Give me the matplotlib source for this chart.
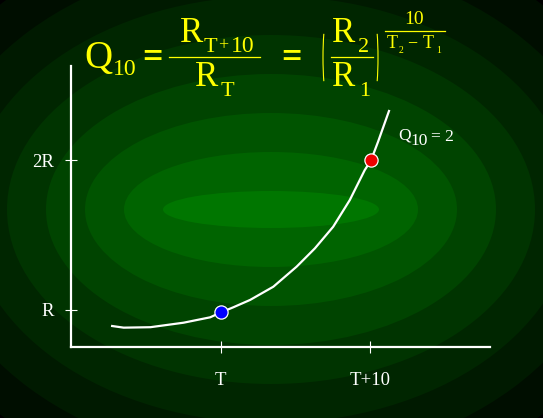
import numpy as np
import matplotlib
matplotlib.use('Agg')
from matplotlib import pyplot as plt
from matplotlib.patches import Ellipse, Arc

###### Data
curve_x = [-7.25, -6.48, -4.70, -2.48, -0.70, 0.05, 0.85, 1.97, 3.52, 5.08,
           6.30, 7.52, 8.63, 9.63, 10.05, 10.52, 11.25]
curve_y = [0.893, 0.882, 0.885, 0.915, 0.951, 0.985, 1.018, 1.067, 1.155, 1.289,
           1.411, 1.555, 1.733, 1.933, 1.998, 2.122, 2.327]
point_x = [0.05, 10.05]
point_y = [0.985, 2.0]
point_colors = ['#0000ff', '#ee0000']
xtick_pos = [0, 10]
xtick_labels = ['T', 'T+10']
ytick_pos = [1, 2]
ytick_labels = ['R', '2R']

###### Figure
W, H = 543, 418
fig = plt.figure(figsize=(W / 100, H / 100), dpi=100, facecolor='black')
serif = 'Liberation Serif'
yel = '#ffff00'

# background: banded elliptical glow, in pixel coordinates
bg = fig.add_axes([0, 0, 1, 1])
bg.set_xlim(0, W)
bg.set_ylim(H, 0)
bg.axis('off')
bg.set_facecolor('black')
levels = [118, 100, 84, 68, 52, 38, 26, 14]
cx, cy = 271, 209.5
for k in range(7, -1, -1):
    a = 108 + 39 * k
    b = 18.5 + 39 * k
    g = levels[k] / 255
    bg.add_patch(Ellipse((cx, cy), 2 * a, 2 * b, facecolor=(0, g, 0), edgecolor='none'))

# equation (pixel coords, baseline anchored)
def put(x, y, s, size, color=yel, weight='normal'):
    bg.text(x, y, s, fontsize=size, family=serif, color=color, ha='left',
            va='baseline', fontweight=weight)

put(84, 68, 'Q', 28)
put(113, 75, '10', 17)
put(142, 67, '=', 26, weight='bold')
bg.plot([169, 260], [57, 57], color=yel, lw=0.9)
put(180, 41.5, 'R', 25)
put(204, 52, 'T', 16)
put(218, 50, '+', 13)
put(231, 52, '10', 17)
put(195, 86, 'R', 25)
put(221, 96, 'T', 16)
put(281, 67, '=', 26, weight='bold')
bg.add_patch(Arc((328, 57.5), 10, 86, theta1=100, theta2=260, color=yel, lw=0.8))
bg.add_patch(Arc((373, 57.5), 10, 86, theta1=-80, theta2=80, color=yel, lw=0.8))
put(332, 41.5, 'R', 25)
put(358, 52, '2', 16)
bg.plot([331, 373], [57, 57], color=yel, lw=0.9)
put(332, 86, 'R', 25)
put(359, 96, '1', 16)
put(404, 24, '10', 14)
bg.plot([385, 445], [30.5, 30.5], color=yel, lw=0.9)
put(387, 48, 'T', 13)
put(399, 53, '2', 7)
put(407, 47, '\u2212', 13)
put(423, 48, 'T', 13)
put(436, 53, '1', 7)

# label on the curve
put(398, 140, 'Q', 12.5, 'white')
put(410, 145, '10', 12.5, 'white')
put(431, 141, '= 2', 12.5, 'white')

###### Chart axes
ax = fig.add_axes([71 / W, (H - 347) / H, (490 - 71) / W, (347 - 66) / H])
ax.patch.set_alpha(0)
ax.set_xlim(-10, 18)
ax.set_ylim(0.753, 2.627)
for s in ['top', 'right']:
    ax.spines[s].set_visible(False)
for s in ['left', 'bottom']:
    ax.spines[s].set_color('white')
    ax.spines[s].set_linewidth(1.6)

ax.plot(curve_x, curve_y, color='white', lw=1.6, zorder=3)
for px, py, c in zip(point_x, point_y, point_colors):
    ax.plot(px, py, 'o', ms=9.5, mfc=c, mec='white', mew=0.9, zorder=4)

ax.set_xticks(xtick_pos)
ax.set_xticklabels(xtick_labels)
ax.set_yticks(ytick_pos)
ax.set_yticklabels(ytick_labels)
ax.tick_params(axis='both', direction='inout', length=8, width=0.8, colors='white',
               labelsize=13.5)
ax.tick_params(axis='x', pad=14)
ax.tick_params(axis='y', pad=8)
for t in ax.get_xticklabels() + ax.get_yticklabels():
    t.set_family(serif)

fig.savefig('out.png', dpi=100, facecolor='black')
